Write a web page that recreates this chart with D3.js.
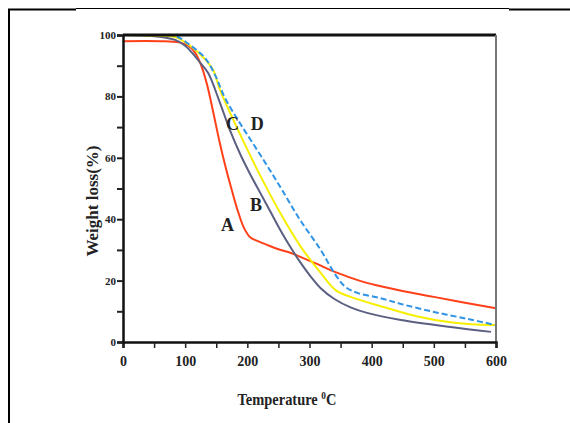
<!DOCTYPE html>
<html>
<head>
<meta charset="utf-8">
<script src="https://cdn.jsdelivr.net/npm/d3@7"></script>
<style>
  body { margin: 0; background: #fff; }
  svg text { font-family: "Liberation Serif", "Times New Roman", serif; font-weight: bold; fill: #222; }
</style>
</head>
<body>
<div id="chart"></div>
<script>
// TGA curves (temperature in C, weight in %)
let tempA   = [0, 60, 90, 105, 115, 125, 135, 145, 155, 165, 175, 185, 195, 205, 215, 230, 250, 270, 290, 310, 345, 380, 420, 460, 500, 550, 600];
let weightA = [98, 98, 97.6, 96.5, 94.5, 90.5, 84, 75, 65.5, 57, 49.5, 42.5, 37, 34, 33, 31.8, 30.2, 29, 27.3, 25.6, 22.5, 20, 17.9, 16.2, 14.7, 12.8, 11];

let tempB   = [0, 50, 84, 100, 112, 124, 137, 156, 172, 189, 205, 221, 237, 253, 269, 285, 302, 318, 340, 367, 394, 447, 527, 592];
let weightB = [100, 99.6, 98.4, 96.5, 94, 91, 87.6, 77.9, 69, 61, 54.5, 48.5, 42.5, 36.5, 31, 26, 21.3, 17.5, 14, 11.2, 9.4, 7.2, 4.9, 3.3];

let tempC   = [0, 50, 84, 108, 130, 145, 156, 189, 221, 253, 285, 318, 342, 366, 419, 474, 527, 560, 600];
let weightC = [100, 99.8, 99.3, 96.5, 92.5, 88.6, 82.1, 67.4, 54.1, 42, 31.3, 22.5, 16.9, 14.7, 11.4, 8.3, 6.4, 5.8, 5.5];

let tempD   = [0, 50, 84, 108, 132, 148, 164, 189, 221, 253, 285, 318, 342, 358, 377, 414, 447, 500, 555, 600];
let weightD = [100, 100, 99.7, 96.7, 92.5, 87, 79.5, 71, 60.9, 50.5, 39.7, 30, 21.8, 17.9, 16, 14.3, 12.4, 9.8, 7.5, 5.5];

let xTicks = [0, 100, 200, 300, 400, 500, 600];
let yTicks = [0, 20, 40, 60, 80, 100];

let series = [
    {name: "A", temp: tempA, weight: weightA, color: "#ff4019", dash: null},
    {name: "B", temp: tempB, weight: weightB, color: "#5b5f82", dash: null},
    {name: "C", temp: tempC, weight: weightC, color: "#f7ef00", dash: null},
    {name: "D", temp: tempD, weight: weightD, color: "#2f93e6", dash: "6,3"}
];

// label positions in data units
let labels = [
    {text: "A", t: 168, w: 37.5},
    {text: "B", t: 214, w: 44},
    {text: "C", t: 176, w: 70.5},
    {text: "D", t: 216, w: 70.5}
];

let width = 570, height = 423;

let svg = d3.select("#chart").append("svg")
    .attr("width", width)
    .attr("height", height);

// outer frame of the figure
svg.append("line").attr("x1", 9).attr("y1", 9).attr("x2", 9).attr("y2", height)
    .attr("stroke", "#000").attr("stroke-width", 2);
svg.append("line").attr("x1", 8).attr("y1", 9.5).attr("x2", 76).attr("y2", 9.5)
    .attr("stroke", "#000").attr("stroke-width", 2);
svg.append("line").attr("x1", 76).attr("y1", 8.5).attr("x2", 509).attr("y2", 8.5)
    .attr("stroke", "#000").attr("stroke-width", 1);
svg.append("line").attr("x1", 509).attr("y1", 9.5).attr("x2", width).attr("y2", 9.5)
    .attr("stroke", "#000").attr("stroke-width", 2);

let xScale = d3.scaleLinear().domain([0, 600]).range([123, 496]);
let yScale = d3.scaleLinear().domain([0, 100]).range([342, 35]);

// curves
let line = d3.line()
    .x(d => xScale(d[0]))
    .y(d => yScale(d[1]))
    .curve(d3.curveCatmullRom.alpha(0.5));

series.forEach(s => {
    let pts = s.temp.map((t, i) => [t, s.weight[i]]);
    svg.append("path")
        .datum(pts)
        .attr("d", line)
        .attr("fill", "none")
        .attr("stroke", s.color)
        .attr("stroke-width", 2)
        .attr("stroke-dasharray", s.dash);
});

// top and right borders
svg.append("line")
    .attr("x1", xScale(0)).attr("x2", xScale(600))
    .attr("y1", yScale(100)).attr("y2", yScale(100))
    .attr("stroke", "#111").attr("stroke-width", 3);
svg.append("line")
    .attr("x1", xScale(600)).attr("x2", xScale(600))
    .attr("y1", yScale(100)).attr("y2", yScale(0))
    .attr("stroke", "#777").attr("stroke-width", 2);

// x axis
let xAxis = d3.axisBottom(xScale)
    .tickValues(d3.range(0, 601, 50))
    .tickSize(6)
    .tickFormat(d => xTicks.includes(d) ? d : "");

let gx = svg.append("g")
    .attr("transform", "translate(0," + yScale(0) + ")")
    .call(xAxis);
gx.select(".domain").attr("stroke", "#111").attr("stroke-width", 2.5);
gx.selectAll(".tick line").attr("stroke", "#222").attr("stroke-width", 1.5);
gx.selectAll("text")
    .attr("dy", "1.1em")
    .style("font-size", "14px")
    .style("font-family", "Liberation Serif, serif")
    .style("font-weight", "bold")
    .attr("fill", "#222");

// y axis
let yAxis = d3.axisLeft(yScale)
    .tickValues(d3.range(0, 101, 10))
    .tickSize(6)
    .tickFormat(d => yTicks.includes(d) ? d : "");

let gy = svg.append("g")
    .attr("transform", "translate(" + xScale(0) + ",0)")
    .call(yAxis);
gy.select(".domain").attr("stroke", "#111").attr("stroke-width", 2.5);
gy.selectAll(".tick line").attr("stroke", "#222").attr("stroke-width", 2);
gy.selectAll("text")
    .attr("x", -7)
    .style("font-size", "11px")
    .style("font-family", "Liberation Serif, serif")
    .style("font-weight", "bold")
    .attr("fill", "#222");

// curve labels
svg.selectAll(".curve-label")
    .data(labels)
    .enter().append("text")
    .attr("class", "curve-label")
    .attr("x", d => xScale(d.t))
    .attr("y", d => yScale(d.w))
    .attr("text-anchor", "middle")
    .attr("dominant-baseline", "middle")
    .style("font-size", "18px")
    .text(d => d.text);

// axis titles
let xTitle = svg.append("text")
    .attr("transform", "translate(287,405) scale(0.85,1)")
    .attr("text-anchor", "middle")
    .style("font-size", "17px");
xTitle.append("tspan").text("Temperature ");
xTitle.append("tspan").attr("dy", -6).style("font-size", "11px").text("0");
xTitle.append("tspan").attr("dy", 6).text("C");

svg.append("text")
    .attr("transform", "translate(98,201) rotate(-90)")
    .attr("text-anchor", "middle")
    .style("font-size", "17px")
    .text("Weight loss(%)");
</script>
</body>
</html>
